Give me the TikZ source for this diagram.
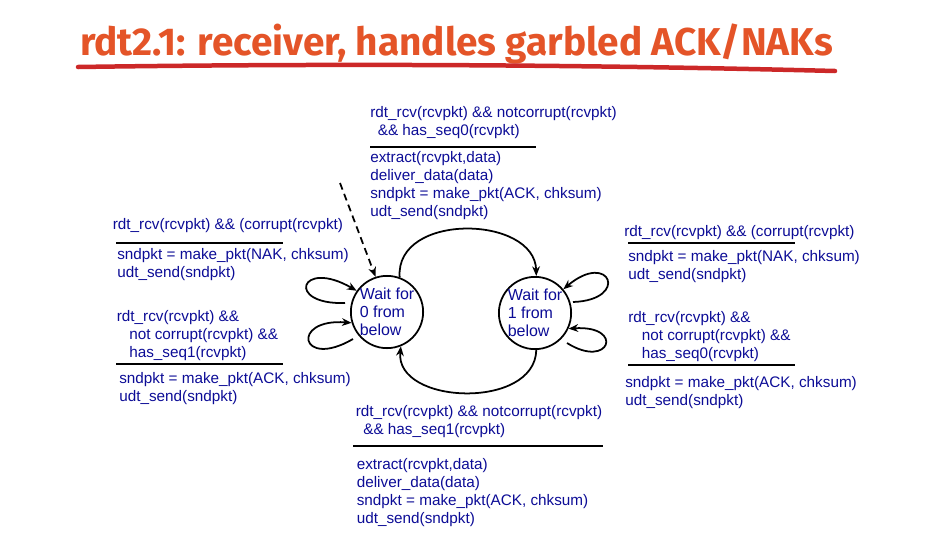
\documentclass[tikz,border=0pt]{standalone}
\usepackage{fontspec}
\setmainfont{Liberation Sans}
\newfontfamily\titlefont{Fira Sans}
\usetikzlibrary{arrows.meta}
\definecolor{fsmblue}{RGB}{12,12,150}
\definecolor{titleorange}{RGB}{228,84,40}
\definecolor{ulred}{RGB}{204,40,40}
\newcommand*{\ind}[1]{\hspace*{#1cm}}
\tikzset{
  lbl/.style={anchor=north west, inner sep=0pt, align=left, text=fsmblue,
    font=\fontsize{8.7}{10.24}\selectfont},
  state/.style={circle, draw, line width=1pt, minimum size=1.36cm, inner sep=0pt,
    align=left, text=fsmblue, font=\fontsize{9.1}{10.24}\selectfont},
  trans/.style={line width=1pt, -{Stealth[length=5.5pt,width=4.4pt]}},
  sep/.style={line width=1.1pt}
}

\begin{document}
\begin{tikzpicture}[x=0.02cm,y=-0.02cm]
\useasboundingbox (0,0) rectangle (944,552);

% title
\node[anchor=base, text=titleorange, inner sep=0pt] (title) at (456.5,55)
  {\resizebox{15.06cm}{!}{\titlefont\bfseries rdt2.1: receiver, handles garbled ACK/NAKs}};
\draw[ulred, line width=0.09cm, line cap=round] (78,67) .. controls (350,63) and (600,65) .. (835,71);

% states
\node[state] (s0) at (387,312) {Wait for\\0 from\\below};
\node[state] (s1) at (535,313) {Wait for\\1 from\\below};

% 0 -> 1
\node[lbl] (g01) at (370,106) {rdt\_rcv(rcvpkt) \&\& notcorrupt(rcvpkt)\\\ind{0.15}\&\& has\_seq0(rcvpkt)};
\draw[sep] (370,147) -- (536,147);
\node[lbl] (a01) at (370,151) {extract(rcvpkt,data)\\deliver\_data(data)\\sndpkt = make\_pkt(ACK, chksum)\\udt\_send(sndpkt)};

% 1 -> 0
\node[lbl] (g10) at (355.5,405) {rdt\_rcv(rcvpkt) \&\& notcorrupt(rcvpkt)\\\ind{0.15}\&\& has\_seq1(rcvpkt)};
\draw[sep] (353,446) -- (603,446);
\node[lbl] (a10) at (356.5,458) {extract(rcvpkt,data)\\deliver\_data(data)\\sndpkt = make\_pkt(ACK, chksum)\\udt\_send(sndpkt)};

% loops on 0
\node[lbl] (g0n) at (112.5,218) {rdt\_rcv(rcvpkt) \&\& (corrupt(rcvpkt)};
\draw[sep] (116,243) -- (283,243);
\node[lbl] (a0n) at (117,248) {sndpkt = make\_pkt(NAK, chksum)\\udt\_send(sndpkt)};
\node[lbl] (g0d) at (116.5,310) {rdt\_rcv(rcvpkt) \&\&\\\ind{0.25}not corrupt(rcvpkt) \&\&\\\ind{0.25}has\_seq1(rcvpkt)};
\draw[sep] (116,364) -- (283,364);
\node[lbl] (a0d) at (119,372) {sndpkt = make\_pkt(ACK, chksum)\\udt\_send(sndpkt)};

% loops on 1
\node[lbl] (g1n) at (624,225) {rdt\_rcv(rcvpkt) \&\& (corrupt(rcvpkt)};
\draw[sep] (628,243) -- (795,243);
\node[lbl] (a1n) at (628,250) {sndpkt = make\_pkt(NAK, chksum)\\udt\_send(sndpkt)};
\node[lbl] (g1d) at (628,311) {rdt\_rcv(rcvpkt) \&\&\\\ind{0.27}not corrupt(rcvpkt) \&\&\\\ind{0.27}has\_seq0(rcvpkt)};
\draw[sep] (628,365) -- (795,365);
\node[lbl] (a1d) at (625,376) {sndpkt = make\_pkt(ACK, chksum)\\udt\_send(sndpkt)};

% connectors
\coordinate (init) at (340,183);
\draw[trans, dash pattern=on 4pt off 2.6pt] (init) -- (s0.108);
\draw[trans] (s0.70) .. controls (395,212) and (535,215) .. (s1.88);
\draw[trans] (s1.-88) .. controls (535,410) and (395,405) .. (s0.-68);

\coordinate (f0a) at (345,303);
\coordinate (f0b) at (353,339);
\coordinate (f1a) at (573,302);
\coordinate (f1b) at (567,343);
\draw[trans] (f0a) .. controls (285,305) and (300,258) .. (s0.145);
\draw[trans] (f0b) .. controls (300,370) and (290,318) .. (s0.197);
\draw[trans] (f1a) .. controls (630,300) and (610,250) .. (s1.40);
\draw[trans] (f1b) .. controls (610,370) and (625,325) .. (s1.335);
\end{tikzpicture}
\end{document}
